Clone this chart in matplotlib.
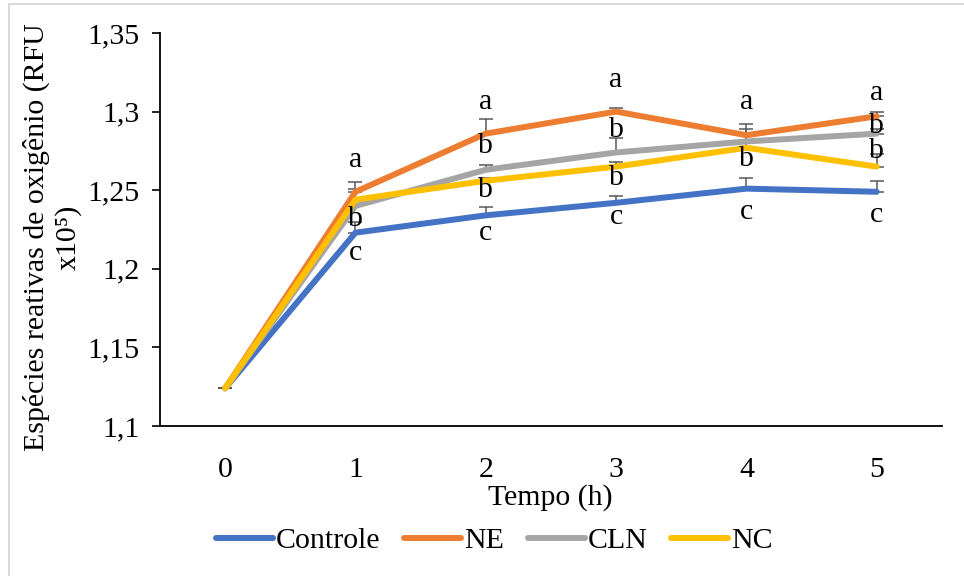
import matplotlib.pyplot as plt
from matplotlib.lines import Line2D

plt.rcParams['font.family'] = ['Liberation Serif', 'DejaVu Serif']

# data
tempo = [0, 1, 2, 3, 4, 5]
controle = [1.124, 1.223, 1.234, 1.242, 1.251, 1.249]
ne = [1.124, 1.249, 1.286, 1.300, 1.285, 1.297]
cln = [1.124, 1.240, 1.263, 1.274, 1.281, 1.286]
nc = [1.124, 1.244, 1.256, 1.265, 1.277, 1.265]

err_controle = [0, 0.007, 0.005, 0.004, 0.007, 0.007]
err_ne = [0, 0.006, 0.009, 0.002, 0.004, 0.003]
err_cln = [0, 0.004, 0.003, 0.009, 0.011, 0.003]
err_nc = [0, 0.007, 0.002, 0.003, 0.003, 0.008]

series_names = ['Controle', 'NE', 'CLN', 'NC']
colors = ['#4472C4', '#ED7D31', '#A5A5A5', '#FFC000']

# significance letters: x, y (data units), letter
letter_x = [1, 1, 1, 2, 2, 2, 2, 3, 3, 3, 3, 4, 4, 4, 5, 5, 5, 5]
letter_y = [1.269, 1.232, 1.210, 1.306, 1.278, 1.250, 1.223,
            1.320, 1.288, 1.258, 1.233, 1.306, 1.270, 1.236,
            1.312, 1.291, 1.275, 1.234]
letter_txt = ['a', 'b', 'c', 'a', 'b', 'b', 'c',
              'a', 'b', 'b', 'c', 'a', 'b', 'c',
              'a', 'b', 'b', 'c']

yticks = [1.1, 1.15, 1.2, 1.25, 1.3, 1.35]
fs = 21.5

fig = plt.figure(figsize=(9.64, 5.76), dpi=100)
ax = fig.add_axes([0.166, 0.2604, 0.811, 0.6823])

all_vals = [controle, ne, cln, nc]
all_err = [err_controle, err_ne, err_cln, err_nc]

# error bars (plus direction only) first, then lines on top
for vals, err in zip(all_vals, all_err):
    ax.errorbar(tempo, vals, yerr=[[0] * len(err), err], fmt='none',
                ecolor='#595959', elinewidth=1.1, capsize=5, capthick=1.1,
                zorder=2)
for vals, col, name in zip(all_vals, colors, series_names):
    ax.plot(tempo, vals, color=col, lw=4.3, solid_capstyle='round',
            solid_joinstyle='round', label=name, zorder=3)

for x, y, t in zip(letter_x, letter_y, letter_txt):
    ax.text(x, y, t, ha='center', va='center', fontsize=fs, zorder=4)

ax.set_xlim(-0.5, 5.5)
ax.set_ylim(1.1, 1.35)
ax.set_xticks(tempo)
ax.set_xticklabels([str(t) for t in tempo])
ax.set_yticks(yticks)
ax.set_yticklabels([('%g' % v).replace('.', ',') for v in yticks])
ax.tick_params(axis='x', length=0, pad=22, labelsize=fs)
ax.tick_params(axis='y', length=6, width=1.2, pad=9, labelsize=fs,
               direction='out')

for s in ['top', 'right']:
    ax.spines[s].set_visible(False)
for s in ['left', 'bottom']:
    ax.spines[s].set_linewidth(1.3)
    ax.spines[s].set_color('black')

fig.text(0.571, 1 - 498 / 576, 'Tempo (h)', ha='center', va='center',
         fontsize=fs)
fig.text(52 / 964, 1 - 237 / 576,
         'Espécies reativas de oxigênio (RFU\nx10⁵)', rotation=90,
         ha='center', va='center', multialignment='center', fontsize=fs,
         linespacing=1.25)

handles = [Line2D([0], [0], color=c, lw=4.3, solid_capstyle='round')
           for c in colors]
fig.legend(handles, series_names, loc='center', ncol=4,
           bbox_to_anchor=(0.513, 1 - 541 / 576), frameon=False,
           fontsize=fs, handlelength=1.9, handletextpad=0.1,
           columnspacing=0.8, borderpad=0)

# light frame lines like the original chart box
fig.add_artist(Line2D([9 / 964, 1], [1 - 4 / 576] * 2, color='#D9D9D9',
                      lw=1.5, transform=fig.transFigure))
fig.add_artist(Line2D([9 / 964] * 2, [0, 1 - 4 / 576], color='#D9D9D9',
                      lw=1.5, transform=fig.transFigure))

fig.savefig('out.png', dpi=100)
